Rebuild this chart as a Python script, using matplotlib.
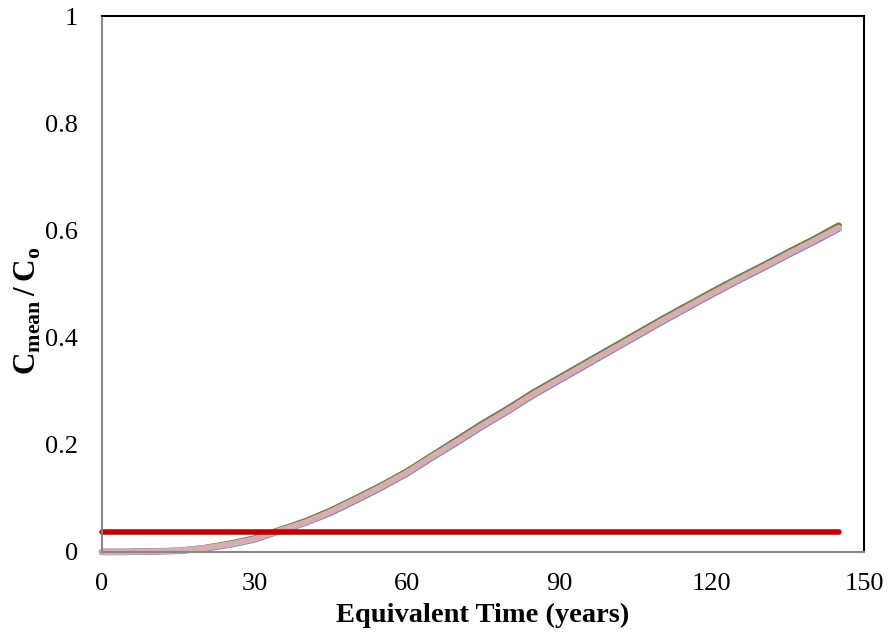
import matplotlib.pyplot as plt

plt.rcParams['font.family'] = ['Liberation Serif', 'DejaVu Serif']
plt.rcParams['mathtext.fontset'] = 'custom'
plt.rcParams['mathtext.rm'] = 'Liberation Serif'
plt.rcParams['mathtext.bf'] = 'Liberation Serif:bold'

# data
years = [0, 5, 10, 15, 20, 25, 30, 35, 40, 45, 50, 55, 60, 65, 70, 75,
         80, 85, 90, 95, 100, 105, 110, 115, 120, 125, 130, 135, 140, 145]
c_mid = [0.0, 0.0, 0.001, 0.002, 0.007, 0.014, 0.024, 0.040, 0.055, 0.075,
         0.098, 0.122, 0.148, 0.178, 0.207, 0.237, 0.265, 0.295, 0.322, 0.349,
         0.376, 0.403, 0.430, 0.456, 0.482, 0.507, 0.531, 0.556, 0.580, 0.605]
c_upper = [0.0, 0.0, 0.001, 0.002, 0.007, 0.015, 0.025, 0.041, 0.057, 0.077,
           0.100, 0.124, 0.150, 0.180, 0.210, 0.240, 0.268, 0.298, 0.325, 0.352,
           0.379, 0.406, 0.433, 0.459, 0.485, 0.510, 0.534, 0.559, 0.583, 0.609]
c_lower = [0.0, 0.0, 0.001, 0.002, 0.006, 0.013, 0.023, 0.039, 0.054, 0.073,
           0.096, 0.120, 0.146, 0.176, 0.205, 0.235, 0.263, 0.293, 0.320, 0.347,
           0.374, 0.401, 0.428, 0.454, 0.480, 0.505, 0.529, 0.554, 0.578, 0.603]
limit_years = [0, 145]
limit_value = [0.037, 0.037]

fig = plt.figure(figsize=(8.89, 6.41), dpi=100)
ax = fig.add_axes([0.1147, 0.139, 0.972 - 0.1147, 0.975 - 0.139])

ax.plot(years, c_upper, color='#6F7A48', lw=4.6, solid_capstyle='round', clip_on=False)
ax.plot(years, c_lower, color='#8A86B8', lw=4.6, solid_capstyle='round', clip_on=False)
ax.plot(years, c_mid, color='#D8ADAF', lw=4.2, solid_capstyle='round', clip_on=False)
ax.plot(limit_years, limit_value, color='#C00000', lw=4.0, solid_capstyle='round', clip_on=False)

ax.set_xlim(0, 150)
ax.set_ylim(0, 1)
ax.set_xticks([0, 30, 60, 90, 120, 150])
ax.set_yticks([0, 0.2, 0.4, 0.6, 0.8, 1])
ax.set_yticklabels(['0', '0.2', '0.4', '0.6', '0.8', '1'])
ax.tick_params(length=0, labelsize=19)
ax.tick_params(axis='y', pad=17)
ax.tick_params(axis='x', pad=15)

for side in ['left', 'bottom']:
    ax.spines[side].set_color('#888888')
    ax.spines[side].set_linewidth(1.5)
for side in ['top', 'right']:
    ax.spines[side].set_color('black')
    ax.spines[side].set_linewidth(1.5)

ax.set_xlabel('Equivalent Time (years)', fontsize=20.5, fontweight='bold', labelpad=6)
ax.set_ylabel(r'$\mathbf{C}_{\mathbf{mean}}\,\mathbf{/}\,\mathbf{C}_{\mathbf{o}}$', fontsize=22.5)
ax.yaxis.set_label_coords(-0.077, 0.45)

fig.savefig('out.png', dpi=100)
